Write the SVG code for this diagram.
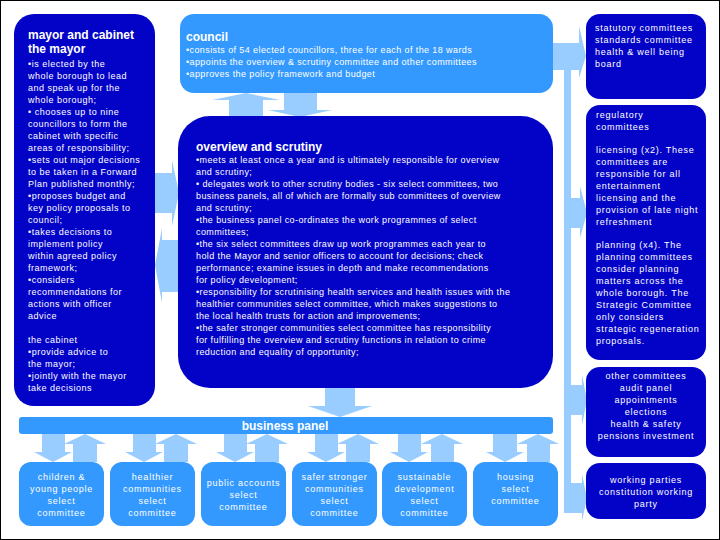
<svg xmlns="http://www.w3.org/2000/svg" width="720" height="540" viewBox="0 0 720 540">
<style>
.dark{fill:#0303C8}
.mid{fill:#3399FF}
.arr{fill:#99CCFF}
text{font-family:"Liberation Sans",Arial,sans-serif;fill:#FFFFFF}
.h{font-size:12px;font-weight:bold}
.b{font-size:9px;letter-spacing:0.4px}
.bm{font-size:9px;letter-spacing:0.5px}
.bw{font-size:9px;letter-spacing:0.75px}
.c{text-anchor:middle}
</style>
<rect x="0" y="0" width="720" height="540" fill="#FFFFFF"/>
<rect x="0.5" y="0.5" width="719" height="539" fill="none" stroke="#000000" stroke-width="1"/>

<g id="connectors">
  <!-- council <-> overview -->
  <polygon class="arr" points="229,117 229,100 212,100 246,93 280,100 263,100 263,117"/>
  <polygon class="arr" points="284,93 317,93 317,110 332,110 300,117 268,110 284,110"/>
  <!-- mayor <-> overview -->
  <polygon class="arr" points="155,173 172,173 172,160 179,193 172,226 172,213 155,213"/>
  <polygon class="arr" points="179,240 162,240 162,228 155,265 162,303 162,292 179,292"/>
  <!-- overview -> business panel -->
  <polygon class="arr" points="325,388 355,388 355,406 372,406 340,417 308,406 325,406"/>
  <!-- business panel <-> select committees -->
  <g id="bp-arrows">
    <polygon class="arr" points="42,434 65,434 65,452 72,452 53,462 34,452 42,452"/>
    <polygon class="arr" points="73,462 97,462 97,444 106,444 85,434 64,444 73,444"/>
    <polygon class="arr" points="133,434 156,434 156,452 163,452 144,462 125,452 133,452"/>
    <polygon class="arr" points="164,462 188,462 188,444 197,444 176,434 155,444 164,444"/>
    <polygon class="arr" points="224,434 247,434 247,452 254,452 235,462 216,452 224,452"/>
    <polygon class="arr" points="255,462 279,462 279,444 288,444 267,434 246,444 255,444"/>
    <polygon class="arr" points="315,434 338,434 338,452 345,452 326,462 307,452 315,452"/>
    <polygon class="arr" points="346,462 370,462 370,444 379,444 358,434 337,444 346,444"/>
    <polygon class="arr" points="398,434 421,434 421,452 428,452 409,462 390,452 398,452"/>
    <polygon class="arr" points="431,462 454,462 454,444 463,444 442,434 421,444 431,444"/>
    <polygon class="arr" points="493,434 517,434 517,452 524,452 505,462 486,452 493,452"/>
    <polygon class="arr" points="527,462 550,462 550,444 559,444 538,434 517,444 527,444"/>
  </g>
  <!-- right side bar -->
  <rect class="arr" x="564" y="43" width="7" height="470"/>
  <polygon class="arr" points="553,43 579,43 579,26 586,56 579,78 579,70 553,70"/>
  <polygon class="arr" points="564,198 580,198 580,186 587,213 580,238 580,228 564,228"/>
  <polygon class="arr" points="564,385 582,385 582,375 587,400 582,425 582,415 564,415"/>
  <polygon class="arr" points="564,483 582,483 582,474 587,498 582,521 582,513 564,513"/>
</g>

<g id="mayor">
  <rect class="dark" x="14" y="14" width="141" height="392" rx="20"/>
  <text class="h" x="28" y="39">mayor and cabinet</text>
  <text class="h" x="28" y="53">the mayor</text>
  <text class="bm">
    <tspan x="28" y="66.5">•is elected by the</tspan>
    <tspan x="28" y="78.5">whole borough to lead</tspan>
    <tspan x="28" y="90.5">and speak up for the</tspan>
    <tspan x="28" y="102.5">whole borough;</tspan>
    <tspan x="28" y="114.5">• chooses up to nine</tspan>
    <tspan x="28" y="126.5">councillors to form the</tspan>
    <tspan x="28" y="138.5">cabinet with specific</tspan>
    <tspan x="28" y="150.5">areas of responsibility;</tspan>
    <tspan x="28" y="162.5">•sets out major decisions</tspan>
    <tspan x="28" y="174.5">to be taken in a Forward</tspan>
    <tspan x="28" y="186.5">Plan published monthly;</tspan>
    <tspan x="28" y="198.5">•proposes budget and</tspan>
    <tspan x="28" y="210.5">key policy proposals to</tspan>
    <tspan x="28" y="222.5">council;</tspan>
    <tspan x="28" y="234.5">•takes decisions to</tspan>
    <tspan x="28" y="246.5">implement policy</tspan>
    <tspan x="28" y="258.5">within agreed policy</tspan>
    <tspan x="28" y="270.5">framework;</tspan>
    <tspan x="28" y="282.5">•considers</tspan>
    <tspan x="28" y="294.5">recommendations for</tspan>
    <tspan x="28" y="306.5">actions with officer</tspan>
    <tspan x="28" y="318.5">advice</tspan>
    <tspan x="28" y="342.5">the cabinet</tspan>
    <tspan x="28" y="354.5">•provide advice to</tspan>
    <tspan x="28" y="366.5">the mayor;</tspan>
    <tspan x="28" y="378.5">•jointly with the mayor</tspan>
    <tspan x="28" y="390.5">take decisions</tspan>
  </text>
</g>

<g id="council">
  <rect class="mid" x="180" y="14" width="373" height="79" rx="14"/>
  <text class="h" x="186" y="41">council</text>
  <text class="b">
    <tspan x="186" y="53">•consists of 54 elected councillors, three for each of the 18 wards</tspan>
    <tspan x="186" y="65">•appoints the overview &amp; scrutiny committee and other committees</tspan>
    <tspan x="186" y="77">•approves the policy framework and budget</tspan>
  </text>
</g>

<g id="overview">
  <rect class="dark" x="178" y="116" width="375" height="272" rx="32"/>
  <text class="h" x="196" y="151">overview and scrutiny</text>
  <text class="b">
    <tspan x="196" y="163">•meets at least once a year and is ultimately responsible for overview</tspan>
    <tspan x="196" y="175">and scrutiny;</tspan>
    <tspan x="196" y="187">• delegates work to other scrutiny bodies -  six select committees, two</tspan>
    <tspan x="196" y="199">business panels, all of which are formally sub committees of overview</tspan>
    <tspan x="196" y="211">and scrutiny;</tspan>
    <tspan x="196" y="223">•the business panel co-ordinates the work programmes of select</tspan>
    <tspan x="196" y="235">committees;</tspan>
    <tspan x="196" y="247">•the six select committees draw up work programmes each year to</tspan>
    <tspan x="196" y="259">hold the Mayor and senior officers to account for decisions; check</tspan>
    <tspan x="196" y="271">performance; examine issues in depth and make recommendations</tspan>
    <tspan x="196" y="283">for policy development;</tspan>
    <tspan x="196" y="295">•responsibility for scrutinising health services and health issues with the</tspan>
    <tspan x="196" y="307">healthier communities select committee, which makes suggestions to</tspan>
    <tspan x="196" y="319">the local health trusts for action and improvements;</tspan>
    <tspan x="196" y="331">•the safer stronger communities select committee has responsibility</tspan>
    <tspan x="196" y="343">for fulfilling the overview and scrutiny functions in relation to crime</tspan>
    <tspan x="196" y="355">reduction and equality of opportunity;</tspan>
  </text>
</g>

<g id="business-panel">
  <rect class="mid" x="19" y="417" width="534" height="17" rx="3"/>
  <text class="h c" x="285" y="430">business panel</text>
</g>

<g id="sc-children">
  <rect class="mid" x="19" y="462" width="85" height="64" rx="12"/>
  <text class="bw c"><tspan x="61.5" y="480">children &amp;</tspan><tspan x="61.5" y="492">young people</tspan><tspan x="61.5" y="504">select</tspan><tspan x="61.5" y="516">committee</tspan></text>
</g>
<g id="sc-healthier">
  <rect class="mid" x="110" y="462" width="85" height="64" rx="12"/>
  <text class="bw c"><tspan x="152.5" y="480">healthier</tspan><tspan x="152.5" y="492">communities</tspan><tspan x="152.5" y="504">select</tspan><tspan x="152.5" y="516">committee</tspan></text>
</g>
<g id="sc-public">
  <rect class="mid" x="201" y="462" width="85" height="64" rx="12"/>
  <text class="bw c"><tspan x="243.5" y="486">public accounts</tspan><tspan x="243.5" y="498">select</tspan><tspan x="243.5" y="510">committee</tspan></text>
</g>
<g id="sc-safer">
  <rect class="mid" x="292" y="462" width="85" height="64" rx="12"/>
  <text class="bw c"><tspan x="334.5" y="480">safer stronger</tspan><tspan x="334.5" y="492">communities</tspan><tspan x="334.5" y="504">select</tspan><tspan x="334.5" y="516">committee</tspan></text>
</g>
<g id="sc-sustainable">
  <rect class="mid" x="382" y="462" width="85" height="64" rx="12"/>
  <text class="bw c"><tspan x="424.5" y="480">sustainable</tspan><tspan x="424.5" y="492">development</tspan><tspan x="424.5" y="504">select</tspan><tspan x="424.5" y="516">committee</tspan></text>
</g>
<g id="sc-housing">
  <rect class="mid" x="473" y="462" width="85" height="64" rx="12"/>
  <text class="bw c"><tspan x="515.5" y="480">housing</tspan><tspan x="515.5" y="492">select</tspan><tspan x="515.5" y="504">committee</tspan></text>
</g>

<g id="statutory">
  <rect class="dark" x="586" y="14" width="120" height="85" rx="14"/>
  <text class="bw"><tspan x="595" y="31">statutory committees</tspan><tspan x="595" y="43">standards committee</tspan><tspan x="595" y="55">health &amp; well being</tspan><tspan x="595" y="67">board</tspan></text>
</g>
<g id="regulatory">
  <rect class="dark" x="586" y="105" width="120" height="255" rx="14"/>
  <text class="bw">
    <tspan x="596" y="118">regulatory</tspan>
    <tspan x="596" y="130">committees</tspan>
    <tspan x="596" y="153">licensing (x2). These</tspan>
    <tspan x="596" y="165">committees are</tspan>
    <tspan x="596" y="177">responsible for all</tspan>
    <tspan x="596" y="189">entertainment</tspan>
    <tspan x="596" y="201">licensing and the</tspan>
    <tspan x="596" y="213">provision of late night</tspan>
    <tspan x="596" y="225">refreshment</tspan>
    <tspan x="596" y="248">planning (x4). The</tspan>
    <tspan x="596" y="260">planning committees</tspan>
    <tspan x="596" y="272">consider planning</tspan>
    <tspan x="596" y="284">matters across the</tspan>
    <tspan x="596" y="296">whole borough. The</tspan>
    <tspan x="596" y="308">Strategic Committee</tspan>
    <tspan x="596" y="320">only considers</tspan>
    <tspan x="596" y="332">strategic regeneration</tspan>
    <tspan x="596" y="344">proposals.</tspan>
  </text>
</g>
<g id="other">
  <rect class="dark" x="586" y="367" width="120" height="90" rx="14"/>
  <text class="bw c"><tspan x="646" y="379">other committees</tspan><tspan x="646" y="391">audit panel</tspan><tspan x="646" y="403">appointments</tspan><tspan x="646" y="415">elections</tspan><tspan x="646" y="427">health &amp; safety</tspan><tspan x="646" y="439">pensions investment</tspan></text>
</g>
<g id="working">
  <rect class="dark" x="586" y="463" width="120" height="56" rx="14"/>
  <text class="bw c"><tspan x="646" y="483">working parties</tspan><tspan x="646" y="495">constitution working</tspan><tspan x="646" y="507">party</tspan></text>
</g>
</svg>
